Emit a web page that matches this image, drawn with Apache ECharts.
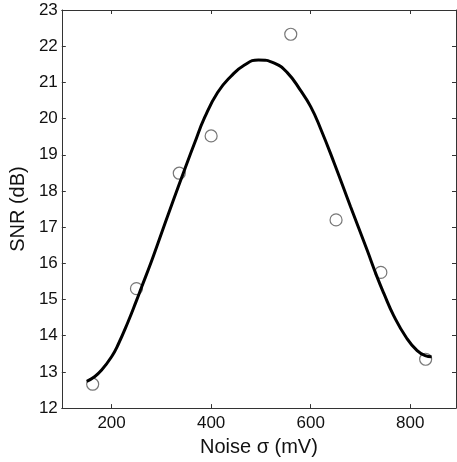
<!DOCTYPE html>
<html>
<head>
<meta charset="utf-8">
<script src="https://cdn.jsdelivr.net/npm/echarts@6/dist/echarts.min.js"></script>
<style>html,body{margin:0;padding:0;background:#fff;}#c{width:457px;height:462px;}</style>
</head>
<body>
<div id="c"></div>
<script>
var xTicks = [200, 400, 600, 800];
var measuredX = [162, 250, 336, 400, 560, 651, 741, 831];
var measuredY = [12.66, 15.30, 18.49, 19.52, 22.33, 17.20, 15.75, 13.35];
var fitX = [150, 165, 180, 200, 213, 233, 250, 260, 280, 293, 323, 347, 367, 387, 413, 440, 467, 495, 527, 553, 580, 600, 620, 647, 680, 713, 733, 747, 767, 793, 813, 830, 843];
var fitY = [12.74, 12.86, 13.05, 13.42, 13.75, 14.38, 14.97, 15.33, 16.05, 16.55, 17.7, 18.6, 19.33, 20.03, 20.72, 21.17, 21.48, 21.62, 21.53, 21.27, 20.77, 20.33, 19.72, 18.78, 17.57, 16.38, 15.64, 15.17, 14.55, 13.93, 13.6, 13.45, 13.42];

var chart = echarts.init(document.getElementById('c'), null, {renderer: 'canvas'});
var font = 'Liberation Sans, Arial, Helvetica, sans-serif';
var axisColor = '#333';
function pairs(xs, ys){ return xs.map(function(x,i){ return [x, ys[i]]; }); }

var xBase = {
  type: 'value', min: 100, max: 892,
  axisLine: {show: true, onZero: false, lineStyle: {color: axisColor, width: 1}},
  axisTick: {show: true, inside: true, length: 4, customValues: xTicks, lineStyle: {color: axisColor}},
  splitLine: {show: false}
};
var yBase = {
  type: 'value', min: 12, max: 23, interval: 1,
  axisLine: {show: true, onZero: false, lineStyle: {color: axisColor, width: 1}},
  axisTick: {show: true, inside: true, length: 4, lineStyle: {color: axisColor}},
  splitLine: {show: false}
};

chart.setOption({
  animation: false,
  backgroundColor: '#fff',
  grid: {left: 60, right: 1, top: 10, bottom: 53, containLabel: false},
  xAxis: [
    Object.assign({}, xBase, {
      position: 'bottom',
      name: 'Noise σ (mV)', nameLocation: 'middle', nameGap: 22,
      nameTextStyle: {fontFamily: font, fontSize: 20, color: '#111'},
      axisLabel: {show: true, customValues: xTicks, margin: 7, fontFamily: font, fontSize: 17, color: '#111'}
    }),
    Object.assign({}, xBase, {position: 'top', axisLabel: {show: false}})
  ],
  yAxis: [
    Object.assign({}, yBase, {
      position: 'left',
      name: 'SNR (dB)', nameLocation: 'middle', nameGap: 25,
      nameTextStyle: {fontFamily: font, fontSize: 20, color: '#111'},
      axisLabel: {show: true, margin: 4, fontFamily: font, fontSize: 17, color: '#111'}
    }),
    Object.assign({}, yBase, {position: 'right', axisLabel: {show: false}})
  ],
  series: [
    {
      type: 'scatter', xAxisIndex: 0, yAxisIndex: 0, z: 2,
      data: pairs(measuredX, measuredY),
      symbol: 'circle', symbolSize: 12,
      itemStyle: {color: 'rgba(255,255,255,0)', borderColor: '#555', borderWidth: 1.2}
    },
    {
      type: 'line', xAxisIndex: 0, yAxisIndex: 0, z: 3,
      data: pairs(fitX, fitY),
      smooth: 0.5, showSymbol: false, symbol: 'none',
      lineStyle: {color: '#000', width: 3}
    }
  ]
});
</script>
</body>
</html>
